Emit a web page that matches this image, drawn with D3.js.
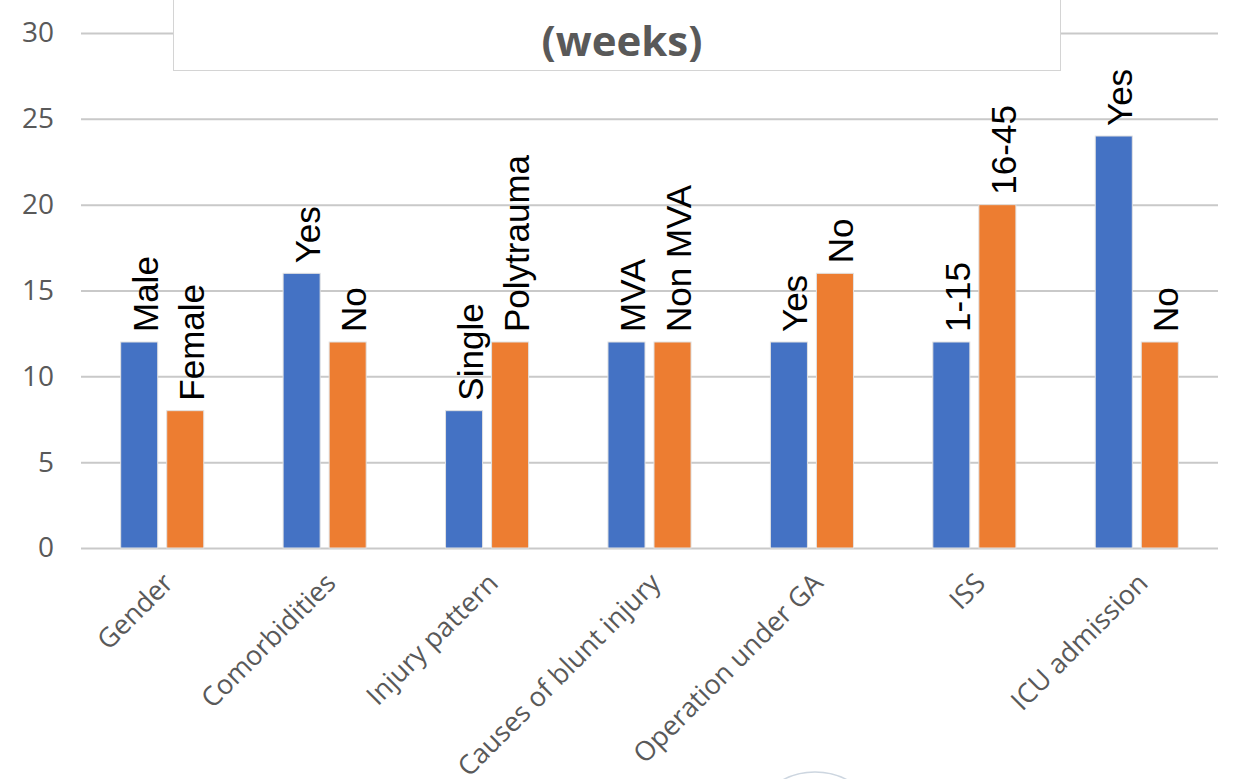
<!DOCTYPE html>
<html lang="en">
<head>
<meta charset="UTF-8">
<title>(weeks)</title>
<script src="https://d3js.org/d3.v7.min.js"></script>
<style>
  body { margin: 0; padding: 0; background: #ffffff; }
  svg { display: block; }
  .tick text { font-family: "Open Sans", sans-serif; fill: #595959; }
</style>
</head>
<body>
<script>
var categories = ["Gender", "Comorbidities", "Injury pattern", "Causes of blunt injury", "Operation under GA", "ISS", "ICU admission"];
var firstLabels = ["Male", "Yes", "Single", "MVA", "Yes", "1-15", "Yes"];
var secondLabels = ["Female", "No", "Polytrauma", "Non MVA", "No", "16-45", "No"];
var firstValues = [12, 16, 8, 12, 12, 12, 24];
var secondValues = [8, 12, 12, 12, 16, 20, 12];
var yTicks = [0, 5, 10, 15, 20, 25, 30];
var titleText = "(weeks)";

var width = 1238, height = 779;
var margin = { left: 81, right: 20, top: 33, bottom: 231 };

var svg = d3.select("body").append("svg")
  .attr("width", width)
  .attr("height", height);

var x = d3.scaleBand()
  .domain(categories)
  .range([margin.left, width - margin.right]);

var y = d3.scaleLinear()
  .domain([0, 30])
  .range([height - margin.bottom, margin.top]);

var barW = x.bandwidth() * 0.228;
var gap = 9;

// gridlines + y labels
var yAxis = svg.append("g")
  .attr("transform", "translate(" + margin.left + ",0)")
  .call(d3.axisLeft(y).tickValues(yTicks).tickSize(-(width - margin.right - margin.left)).tickPadding(27));
yAxis.select(".domain").remove();
yAxis.selectAll(".tick line").attr("stroke", "#c9c9c9").attr("stroke-width", 2);
yAxis.selectAll(".tick text").attr("font-size", 28);

var rows = categories.map(function (c, i) {
  return { cat: c, v1: firstValues[i], v2: secondValues[i], l1: firstLabels[i], l2: secondLabels[i] };
});

var groups = svg.append("g").selectAll("g")
  .data(rows)
  .enter().append("g")
  .attr("transform", function (d) { return "translate(" + (x(d.cat) + x.bandwidth() / 2) + ",0)"; });

function addBar(sel, val, lab, dx, color) {
  sel.append("rect")
    .attr("x", function (d) { return dx(d); })
    .attr("y", function (d) { return y(val(d)); })
    .attr("width", barW)
    .attr("height", function (d) { return y(0) - y(val(d)); })
    .attr("fill", color)
    .attr("stroke", "#e2e2e2")
    .attr("stroke-width", 1);

  // baseline sits on the bar's right edge
  sel.append("text")
    .attr("transform", function (d) {
      return "translate(" + (dx(d) + barW / 2) + "," + (y(val(d)) - 10) + ") rotate(-90)";
    })
    .attr("dy", barW / 2)
    .attr("text-anchor", "start")
    .attr("font-family", "Liberation Sans, Arial, sans-serif")
    .attr("font-size", 35)
    .attr("fill", "#000")
    .text(lab);
}

addBar(groups, function (d) { return d.v1; }, function (d) { return d.l1; }, function () { return -gap / 2 - barW; }, "#4472C4");
addBar(groups, function (d) { return d.v2; }, function (d) { return d.l2; }, function () { return gap / 2; }, "#ED7D31");

// category labels
svg.append("g").selectAll("text")
  .data(categories)
  .enter().append("text")
  .attr("transform", function (d) {
    return "translate(" + (x(d) + x.bandwidth() / 2 + 6) + "," + (y(0) + 30) + ") rotate(-45)";
  })
  .attr("text-anchor", "end")
  .attr("dy", "0.35em")
  .attr("font-family", "Open Sans, sans-serif")
  .attr("font-size", 27)
  .attr("fill", "#595959")
  .text(function (d) { return d; });

// title box
svg.append("rect")
  .attr("x", 173.5)
  .attr("y", -5)
  .attr("width", 887)
  .attr("height", 75.5)
  .attr("fill", "#fff")
  .attr("stroke", "#d4d4d4")
  .attr("stroke-width", 1);

svg.append("text")
  .attr("x", 622)
  .attr("y", 56)
  .attr("text-anchor", "middle")
  .attr("font-family", "Open Sans, sans-serif")
  .attr("font-weight", "bold")
  .attr("font-size", 42)
  .attr("fill", "#595959")
  .text(titleText);

// faint arc at the bottom edge
svg.append("circle")
  .attr("cx", 815)
  .attr("cy", 840)
  .attr("r", 68)
  .attr("fill", "none")
  .attr("stroke", "#cdd6e0")
  .attr("stroke-width", 1.5);
</script>
</body>
</html>
